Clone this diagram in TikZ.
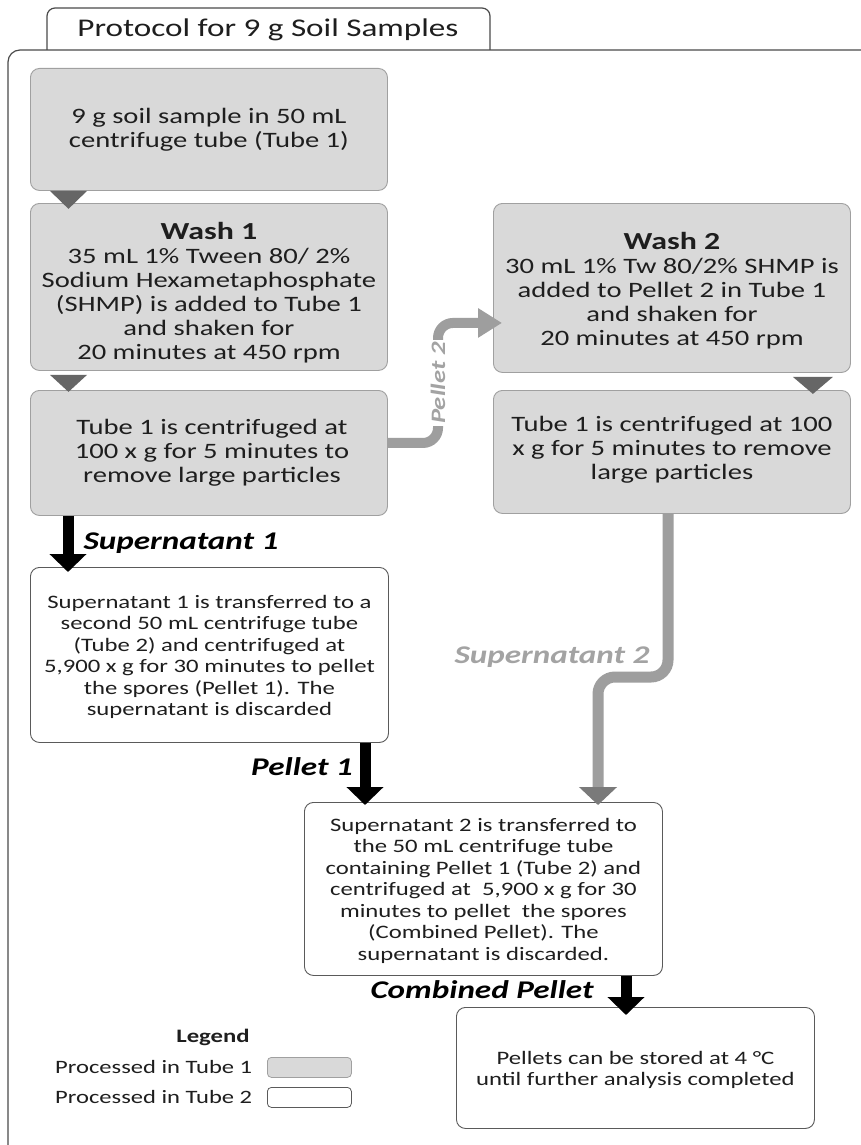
\documentclass[tikz,border=0pt]{standalone}
\usepackage{fontspec}
\setmainfont{Carlito}[FakeStretch=1.3]
\usetikzlibrary{arrows.meta,calc}
\definecolor{boxgray}{HTML}{D9D9D9}
\definecolor{grayedge}{HTML}{A0A0A0}
\definecolor{whiteedge}{HTML}{5A5A5A}
\definecolor{chevron}{HTML}{666666}
\definecolor{flowgray}{HTML}{9E9E9E}
\definecolor{flowhead}{HTML}{7A7A7A}
\definecolor{framecol}{HTML}{4A4A4A}
\definecolor{labelgray}{HTML}{A3A3A3}
\definecolor{bodytext}{HTML}{1E1E1E}
\newcommand{\washtitlefont}{\fontsize{24.5}{26}\selectfont\bfseries}
\begin{document}
\begin{tikzpicture}[x=1pt,y=-1pt,
 tubeone/.style={draw=grayedge, fill=boxgray, rounded corners=9pt, line width=0.9pt, anchor=north west, inner sep=0pt},
 tubetwo/.style={draw=whiteedge, fill=white, rounded corners=9pt, line width=0.9pt, anchor=north west, inner sep=0pt},
 onetext/.style={align=center, inner sep=0pt, text=bodytext, font=\fontsize{22}{24}\selectfont},
 twotext/.style={align=center, inner sep=0pt, text=bodytext, font=\fontsize{19}{21.5}\selectfont},
 blackflow/.style={line width=11pt, -{Triangle[width=36pt,length=18pt]}},
 grayflow/.style={draw=flowgray, line width=11pt, -{Triangle[width=37pt,length=18pt,color=flowhead]}},
 flowlabel/.style={font=\fontsize{25.5}{25.5}\selectfont\bfseries\itshape, inner sep=0pt},
 chev/.style={fill=chevron},
 legendtext/.style={font=\fontsize{18.9}{19}\selectfont, inner sep=0pt, anchor=west, text=bodytext},
 swatch/.style={rounded corners=4pt, line width=0.8pt, minimum width=84pt, minimum height=20pt, inner sep=0pt, anchor=north west}]
\useasboundingbox (0,0) rectangle (861,1145);
\fill[white] (0,0) rectangle (861,1145);
% frame and tab
\draw[framecol, line width=1.2pt, fill=white, rounded corners=8pt] (47,50) -- (47,8) -- (490,8) -- (490,50);
\draw[framecol, line width=1.2pt, rounded corners=12pt] (875,50) -| (8,1160);
\node[font=\fontsize{25.5}{25.5}\selectfont, inner sep=0pt, text=bodytext] (title) at (268,30) {Protocol for 9 g Soil Samples};
% boxes
\node[tubeone, minimum width=357pt, minimum height=122pt] (a) at (30,68) {};
\node[onetext] (ta) at (a.center) {9 g soil sample in 50 mL\\centrifuge tube (Tube 1)};
\node[tubeone, minimum width=357pt, minimum height=167pt] (w1) at (30,203) {};
\node[onetext] (tw1) at ([yshift=-6pt]w1.center) {{\washtitlefont Wash 1}\\35 mL 1\% Tween 80/ 2\%\\Sodium Hexametaphosphate\\(SHMP) is added to Tube 1\\and shaken for\\20 minutes at 450 rpm};
\node[tubeone, minimum width=357pt, minimum height=125pt] (c) at (30,390) {};
\node[onetext] (tc) at ([xshift=3pt]c.center) {Tube 1 is centrifuged at\\100 x g for 5 minutes to\\remove large particles};
\node[tubeone, minimum width=357pt, minimum height=169pt] (w2) at (493,203) {};
\node[onetext] (tw2) at ([yshift=-3pt]w2.center) {{\washtitlefont Wash 2}\\30 mL 1\% Tw 80/2\% SHMP is\\added to Pellet 2 in Tube 1\\and shaken for\\20 minutes at 450 rpm};
\node[tubeone, minimum width=357pt, minimum height=123pt] (e) at (493,390) {};
\node[onetext] (te) at ([yshift=2pt]e.center) {Tube 1 is centrifuged at 100\\x g for 5 minutes to remove\\large particles};
\node[tubetwo, minimum width=358pt, minimum height=175pt] (f) at (30,567) {};
\node[twotext] (tf) at ([yshift=-2pt]f.center) {Supernatant 1 is transferred to a\\second 50 mL centrifuge tube\\(Tube 2) and centrifuged at\\5,900 x g for 30 minutes to pellet\\the spores (Pellet 1). The\\supernatant is discarded};
\node[tubetwo, minimum width=358pt, minimum height=173pt] (g) at (304,802) {};
\node[twotext] (tg) at ([yshift=-1.5pt]g.center) {Supernatant 2 is transferred to\\the 50 mL centrifuge tube\\containing Pellet 1 (Tube 2) and\\centrifuged at \ 5,900 x g for 30\\minutes to pellet \ the spores\\(Combined Pellet). The\\supernatant is discarded.};
\node[tubetwo, minimum width=358pt, minimum height=121pt] (h) at (456,1007) {};
\node[twotext] (th) at ([yshift=-2pt]h.center) {Pellets can be stored at 4 °C\\until further analysis completed};
% chevrons
\fill[chev] ([xshift=20pt]a.south west) -- ([xshift=57pt]a.south west) -- ([xshift=38.5pt,yshift=-18pt]a.south west) -- cycle;
\fill[chev] ([xshift=20pt,yshift=-4pt]w1.south west) -- ([xshift=57pt,yshift=-4pt]w1.south west) -- ([xshift=38.5pt,yshift=-21pt]w1.south west) -- cycle;
\fill[chev] ([xshift=-58pt,yshift=-4pt]w2.south east) -- ([xshift=-18pt,yshift=-4pt]w2.south east) -- ([xshift=-38pt,yshift=-21pt]w2.south east) -- cycle;
% black flows
\draw[blackflow] ([xshift=38pt]c.south west) -- ([xshift=38pt,yshift=-5pt]f.north west);
\draw[blackflow] ([xshift=335pt]f.south west) -- ([xshift=61pt,yshift=-3pt]g.north west);
\draw[blackflow] ([xshift=322pt]g.south west) -- ([xshift=170pt,yshift=-8pt]h.north west);
\node[flowlabel] (l1) at (181,543) {Supernatant 1};
\node[flowlabel] (l2) at (302,767) {Pellet 1};
\node[flowlabel] (l3) at (482,990) {Combined Pellet};
% gray flows
\coordinate (s2bend) at (633,677);
\draw[grayflow] ([xshift=175pt]e.south west) [rounded corners=17pt] |- (s2bend) -| ([xshift=294pt,yshift=-3pt]g.north west);
\node[flowlabel, text=labelgray] (l4) at (552,657) {Supernatant 2};
\coordinate (p2bend) at (438,383);
\draw[draw=flowgray, line width=10pt, -{Triangle[width=28pt,length=24pt,color=flowgray]}] ([yshift=10pt]c.east) [rounded corners=15pt] -| (p2bend) |- ([xshift=9pt,yshift=-35pt]w2.west);
\node[text=labelgray, fill=white, rotate=90, inner sep=2pt, font=\fontsize{20.5}{21}\selectfont\bfseries\itshape] (l5) at (p2bend) {Pellet 2};
% legend
\node[font=\fontsize{19}{19}\selectfont\bfseries, inner sep=0pt, text=bodytext] (leg) at (213,1037) {Legend};
\node[legendtext] (t1) at (55,1067) {Processed in Tube 1};
\node[legendtext] (t2) at (55,1097) {Processed in Tube 2};
\node[swatch, draw=grayedge, fill=boxgray] (s1) at (267,1057) {};
\node[swatch, draw=whiteedge, fill=white] (s2) at (267,1087) {};
\end{tikzpicture}
\end{document}
